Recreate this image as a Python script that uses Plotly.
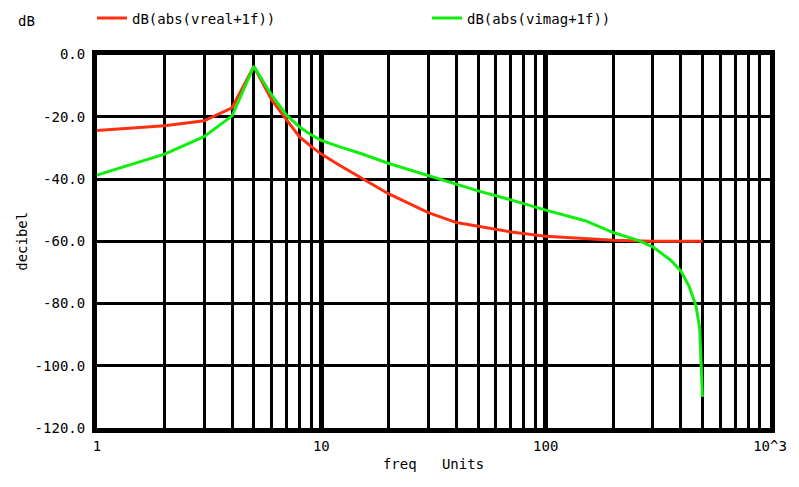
import plotly.graph_objects as go

# frequencies (Hz) and dB values
freq_real = [1, 2, 3, 4, 5, 6, 7, 8, 9, 10, 12, 15, 20, 30, 40, 50, 70, 100, 150, 200, 300, 500]
db_real = [-24.4, -22.9, -21.3, -17.1, -3.8, -14.5, -21.0, -26.5, -29.5, -32.0, -35.5, -39.5,
           -44.8, -50.8, -54.0, -55.2, -57.0, -58.4, -59.3, -59.7, -60.0, -60.0]

freq_imag = [1, 2, 3, 4, 5, 6, 7, 8, 9, 10, 12, 15, 20, 30, 40, 50, 70, 100, 150, 200, 260,
             300, 360, 400, 436, 468, 486, 492, 498, 500]
db_imag = [-38.7, -32.0, -26.4, -19.7, -3.8, -13.0, -19.5, -23.3, -25.8, -27.6, -29.6, -31.8,
           -35.0, -39.0, -41.7, -43.8, -46.7, -50.0, -53.4, -57.2, -59.8, -61.8, -66.0, -69.5,
           -74.5, -80.8, -88.0, -100.0, -109.0, -110.0]

y_ticks = [0, -20, -40, -60, -80, -100, -120]
y_ticktext = ["0.0", "-20.0", "-40.0", "-60.0", "-80.0", "-100.0", "-120.0"]
x_ticks = [1, 10, 100, 1000]
x_ticktext = ["1", "10", "100", "10^3"]

FONT = "DejaVu Sans Mono"
FS = 14

fig = go.Figure()
fig.add_trace(go.Scatter(x=freq_real, y=db_real, mode="lines", name="dB(abs(vreal+1f))",
                         line=dict(color="#ff3010", width=3)))
fig.add_trace(go.Scatter(x=freq_imag, y=db_imag, mode="lines", name="dB(abs(vimag+1f))",
                         line=dict(color="#10ee10", width=3)))

fig.update_layout(
    width=799, height=487,
    margin=dict(l=97, r=27, t=52, b=59),
    paper_bgcolor="white", plot_bgcolor="white",
    font=dict(family=FONT, size=FS, color="black"),
    showlegend=True,
    legend=dict(orientation="h", x=92 / 799, xanchor="left", xref="container",
                y=0.995, yanchor="top", yref="container", entrywidth=290,
                font=dict(family=FONT, size=FS),
                bgcolor="rgba(0,0,0,0)", borderwidth=0),
    annotations=[dict(text="dB", x=-81 / 675, y=1 + 34 / 376, xref="paper", yref="paper",
                      showarrow=False, xanchor="left", yanchor="middle",
                      font=dict(family=FONT, size=FS))],
)
fig.update_xaxes(
    type="log", range=[0, 3],
    tickvals=x_ticks, ticktext=x_ticktext, ticks="",
    showgrid=True, gridcolor="black", gridwidth=5,
    minor=dict(dtick="D1", showgrid=True, gridcolor="black", gridwidth=3, ticks=""),
    showline=True, linecolor="black", linewidth=5, mirror=True,
    zeroline=False, ticklabelstandoff=1,
    title=dict(text="freq   Units", font=dict(family=FONT, size=FS), standoff=8),
    tickfont=dict(family=FONT, size=FS),
)
fig.update_yaxes(
    range=[-120, 0],
    tickvals=y_ticks, ticktext=y_ticktext, ticks="",
    showgrid=True, gridcolor="black", gridwidth=3,
    showline=True, linecolor="black", linewidth=5, mirror=True,
    zeroline=False, ticklabelstandoff=4,
    title=dict(text="decibel", font=dict(family=FONT, size=FS), standoff=5),
    tickfont=dict(family=FONT, size=FS),
)

fig.write_html("out.html")
